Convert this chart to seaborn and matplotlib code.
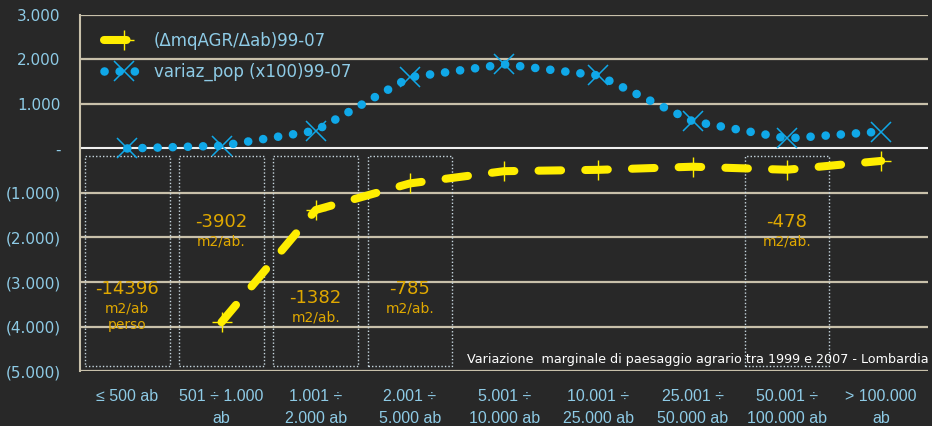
import numpy as np
import pandas as pd
import matplotlib
matplotlib.use("Agg")
from matplotlib import pyplot as plt
from matplotlib.patches import Rectangle
from matplotlib.ticker import FuncFormatter
import seaborn as sns

categories = ["≤ 500 ab", "501 ÷ 1.000\nab", "1.001 ÷\n2.000 ab", "2.001 ÷\n5.000 ab",
              "5.001 ÷\n10.000 ab", "10.001 ÷\n25.000 ab", "25.001 ÷\n50.000 ab",
              "50.001 ÷\n100.000 ab", "> 100.000\nab"]
agr_delta = [np.nan, -3902, -1382, -785, -510, -480, -410, -478, -280]
pop_var = [0, 60, 400, 1600, 1890, 1640, 610, 225, 380]
label_agr = "(ΔmqAGR/Δab)99-07"
label_pop = "variaz_pop (x100)99-07"

# boxed notes: category index, value text, unit text, y of note
box_cats = [0, 1, 2, 3, 7]
box_values = ["-14396", "-3902", "-1382", "-785", "-478"]
box_units = ["m2/ab\nperso", "m2/ab.", "m2/ab.", "m2/ab.", "m2/ab."]
box_text_y = [-3150, -1650, -3350, -3150, -1650]
footnote = "Variazione  marginale di paesaggio agrario tra 1999 e 2007 - Lombardia"

bg = "#282828"
tick_col = "#8ecbe6"
yellow = "#ffee00"
blue = "#10a8e8"
gold = "#e0a800"
grid_col = "#c8c0aa"

sns.set_style("dark")
plt.rcParams["font.family"] = ["DejaVu Sans"]

df = pd.DataFrame({"x": np.arange(len(categories)), "agr": agr_delta, "pop": pop_var})

fig = plt.figure(figsize=(9.32, 4.26), dpi=100, facecolor=bg)
ax = fig.add_axes([0.086, 0.129, 0.910, 0.836])
ax.set_facecolor(bg)

for y in range(-5000, 3001, 1000):
    ax.axhline(y, color="#f0f0f0" if y == 0 else grid_col, lw=1.5 if y == 0 else 1.6, zorder=1)

for i, c in enumerate(box_cats):
    ax.add_patch(Rectangle((c - 0.45, -4880), 0.9, 4720, fill=False, ec="#c8d8e0",
                           lw=1.0, ls=(0, (1, 1.5)), zorder=2))
    ax.text(c, box_text_y[i], box_values[i], color=gold, fontsize=13,
            ha="center", va="center", zorder=3)
    ax.text(c, box_text_y[i] - 280, box_units[i], color=gold, fontsize=10,
            ha="center", va="top", zorder=3, linespacing=1.3)

sns.lineplot(data=df, x="x", y="pop", ax=ax, color=blue, lw=6.2,
             linestyle=(0, (0.01, 1.75)), dash_capstyle="round", solid_capstyle="round",
             marker="x", markersize=14, markeredgewidth=1.1, markeredgecolor=blue,
             label=label_pop, zorder=4)
sns.lineplot(data=df, x="x", y="agr", ax=ax, color=yellow, lw=5.8,
             linestyle=(0, (2.8, 3.0)), dash_capstyle="round",
             marker="+", markersize=15, markeredgewidth=1.0, markeredgecolor=yellow,
             label=label_agr, zorder=5)

ax.text(8.5, -4730, footnote, color="white", fontsize=9.2, ha="right", va="center", zorder=3)

ax.set_xlim(-0.5, 8.5)
ax.set_ylim(-5000, 3000)
ax.set_yticks(range(-5000, 3001, 1000))
ax.yaxis.set_major_formatter(FuncFormatter(
    lambda v, p: "-" if v == 0 else (f"{abs(v):,.0f}".replace(",", ".") if v > 0
                                     else "(" + f"{abs(v):,.0f}".replace(",", ".") + ")")))
ax.set_xticks(range(len(categories)))
ax.set_xticklabels(categories, color=tick_col, fontsize=11.5, linespacing=1.6,
                   family=["Liberation Sans", "DejaVu Sans"])
ax.tick_params(axis="y", colors=tick_col, labelsize=11, length=0, pad=14)
ax.tick_params(axis="x", length=0, pad=13)
ax.set_xlabel("")
ax.set_ylabel("")
ax.grid(False)
for s in ["top", "right", "bottom"]:
    ax.spines[s].set_visible(False)
ax.spines["left"].set_color(grid_col)
ax.spines["left"].set_linewidth(1.5)

handles, labels = ax.get_legend_handles_labels()
leg = ax.legend(handles[::-1], labels[::-1], loc="upper left", bbox_to_anchor=(0.01, 0.995),
                frameon=False, fontsize=12, labelcolor=tick_col, handlelength=2.4,
                handletextpad=0.6, labelspacing=0.8)

fig.savefig("out.png", dpi=100, facecolor=bg)
